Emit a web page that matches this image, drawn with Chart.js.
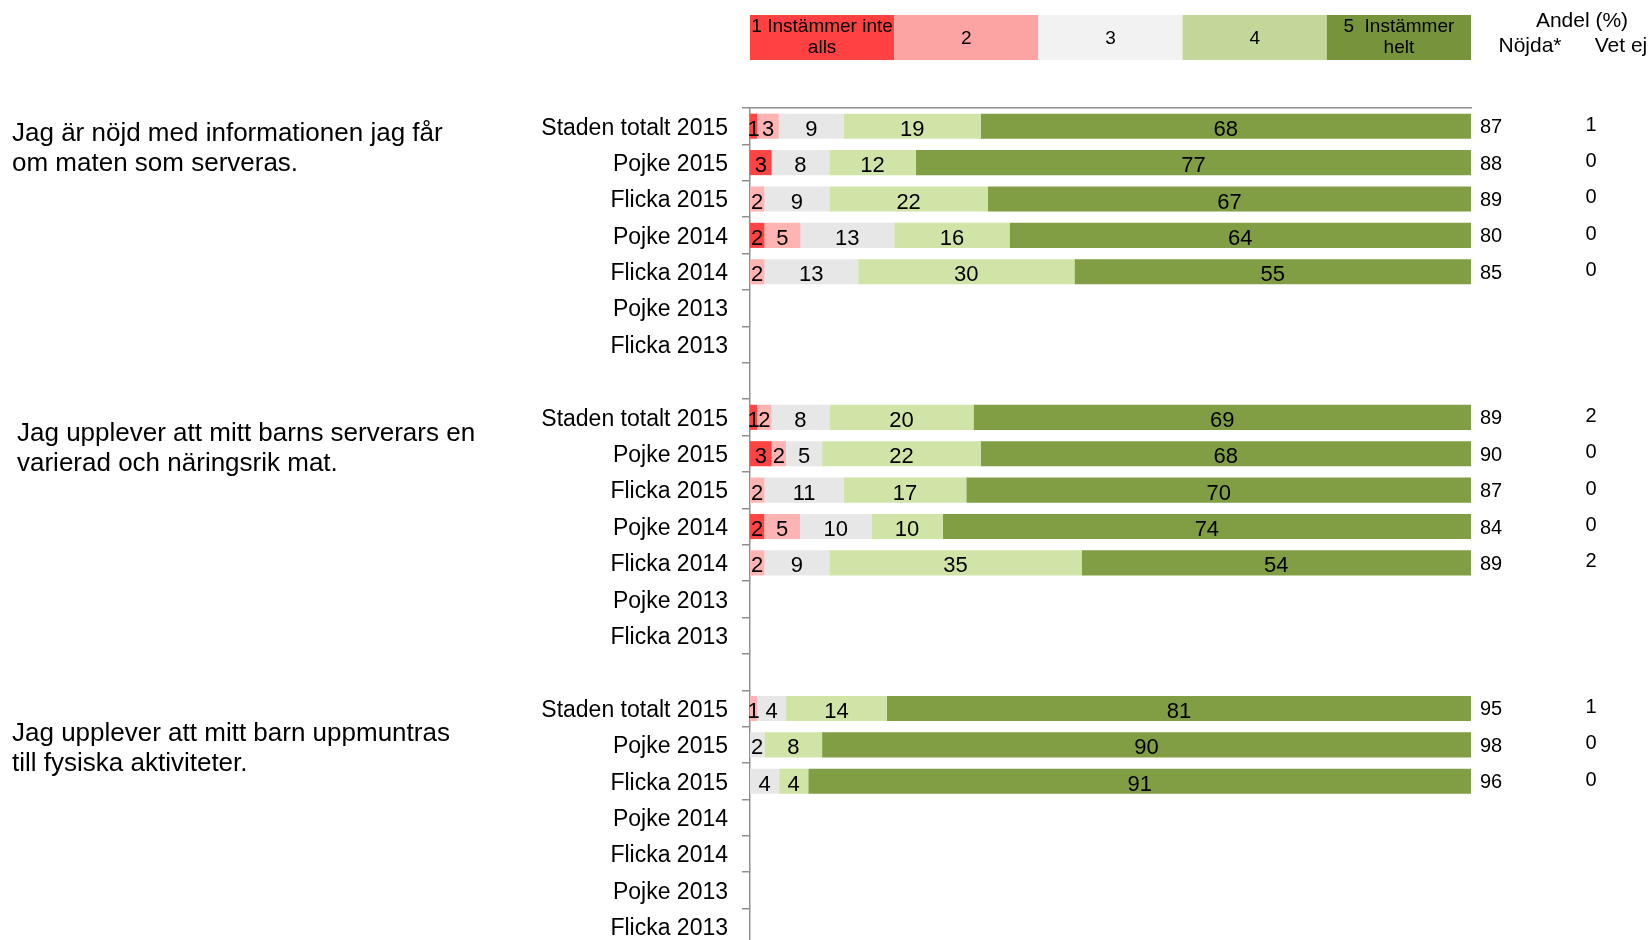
<!DOCTYPE html>
<html><head><meta charset="utf-8">
<script src="https://cdn.jsdelivr.net/npm/chart.js@4"></script>
<style>html,body{margin:0;padding:0;background:#fff;overflow:hidden}#wrap{width:1650px;height:940px;overflow:hidden;position:relative}canvas{display:block}</style>
</head><body><div id="wrap"><canvas id="c" width="1650" height="945"></canvas></div>
<script>
// ---- data ----
const categories = [
  'Staden totalt 2015','Pojke 2015','Flicka 2015','Pojke 2014','Flicka 2014','Pojke 2013','Flicka 2013','',
  'Staden totalt 2015','Pojke 2015','Flicka 2015','Pojke 2014','Flicka 2014','Pojke 2013','Flicka 2013','',
  'Staden totalt 2015','Pojke 2015','Flicka 2015','Pojke 2014','Flicka 2014','Pojke 2013','Flicka 2013'
];
const seriesNames = ['1 Instämmer inte alls','2','3','4','5 Instämmer helt'];
const s1 = [1,3,0,2,0,null,null, null, 1,3,0,2,0,null,null, null, 0,0,0,null,null,null,null];
const s2 = [3,0,2,5,2,null,null, null, 2,2,2,5,2,null,null, null, 1,0,0,null,null,null,null];
const s3 = [9,8,9,13,13,null,null, null, 8,5,11,10,9,null,null, null, 4,2,4,null,null,null,null];
const s4 = [19,12,22,16,30,null,null, null, 20,22,17,10,35,null,null, null, 14,8,4,null,null,null,null];
const s5 = [68,77,67,64,55,null,null, null, 69,68,70,74,54,null,null, null, 81,90,91,null,null,null,null];
const nojda = [87,88,89,80,85,null,null, null, 89,90,87,84,89,null,null, null, 95,98,96,null,null,null,null];
const vetEj = [1,0,0,0,0,null,null, null, 2,0,0,0,2,null,null, null, 1,0,0,null,null,null,null];
const legendLabels = [['1 Instämmer inte','alls'],['2'],['3'],['4'],['5  Instämmer','helt']];
const headerTitle = 'Andel (%)';
const headerCols = ['Nöjda*','Vet ej'];
const questions = [
  ['Jag är nöjd med informationen jag får','om maten som serveras.'],
  ['Jag upplever att mitt barns serverars en','varierad och näringsrik mat.'],
  ['Jag upplever att mitt barn uppmuntras','till fysiska aktiviteter.']
];

// ---- styles ----
const FONT = "'Liberation Sans', Arial, sans-serif";
const barColors = ['#FF4444','#FFB4B4','#E7E7E7','#D1E4A8','#819E45'];
const legendColors = ['#FF4141','#FCA4A4','#F2F2F2','#C4D79B','#77933C'];
const axisColor = '#8f8f8f';

Chart.defaults.font.family = FONT;

// 100% stacked: each row is shown as share of its own total (labels keep raw values)
const seriesData = [s1, s2, s3, s4, s5];
const rowTotals = categories.map((c, i) => seriesData.reduce((a, s) => a + (s[i] || 0), 0));
const plotted = seriesData.map(s => s.map((v, i) => v == null ? null : (rowTotals[i] ? v / rowTotals[i] * 100 : 0)));

const extras = {
  id: 'extras',
  afterDatasetsDraw(chart) {
    const ctx = chart.ctx;
    ctx.save();
    ctx.font = '22px ' + FONT;
    ctx.fillStyle = '#000';
    ctx.textAlign = 'center';
    ctx.textBaseline = 'middle';
    chart.data.datasets.forEach((ds, di) => {
      const meta = chart.getDatasetMeta(di);
      meta.data.forEach((el, i) => {
        const v = seriesData[di][i];
        if (v == null || v === 0) return;
        const p = el.getProps(['x','base','y'], true);
        ctx.fillText(String(v), (p.x + p.base) / 2, p.y + 3.5);
      });
    });
    ctx.restore();
  },
  afterDraw(chart) {
    const ctx = chart.ctx;
    const xs = chart.scales.x, ys = chart.scales.y;
    ctx.save();
    // legend boxes
    const lt = 15, lh = 45;
    for (let k = 0; k < 5; k++) {
      const x0 = xs.getPixelForValue(k * 20), x1 = xs.getPixelForValue((k + 1) * 20);
      ctx.fillStyle = legendColors[k];
      ctx.fillRect(x0, lt, x1 - x0, lh);
      ctx.fillStyle = '#000';
      ctx.font = '19px ' + FONT;
      ctx.textAlign = 'center';
      ctx.textBaseline = 'middle';
      const lines = legendLabels[k];
      const cx = (x0 + x1) / 2;
      if (lines.length === 1) ctx.fillText(lines[0], cx, lt + lh / 2 + 1);
      else { ctx.fillText(lines[0], cx, lt + 12); ctx.fillText(lines[1], cx, lt + 33); }
    }
    // header
    ctx.font = '21px ' + FONT;
    ctx.textAlign = 'center';
    ctx.fillText(headerTitle, 1582, 21);
    ctx.fillText(headerCols[0], 1530, 46);
    ctx.fillText(headerCols[1], 1621, 46);
    // right columns
    ctx.font = '20px ' + FONT;
    categories.forEach((c, i) => {
      const y = ys.getPixelForValue(i);
      if (nojda[i] != null) { ctx.textAlign = 'left'; ctx.fillText(String(nojda[i]), 1480, y + 1.5); }
      if (vetEj[i] != null) { ctx.textAlign = 'center'; ctx.fillText(String(vetEj[i]), 1591, y - 1); }
    });
    // questions
    ctx.font = '26px ' + FONT;
    ctx.textAlign = 'left';
    const qpos = [[12, 134, 164], [17, 434, 464], [12, 734, 764]];
    questions.forEach((q, qi) => {
      ctx.fillText(q[0], qpos[qi][0], qpos[qi][1]);
      ctx.fillText(q[1], qpos[qi][0], qpos[qi][2]);
    });
    ctx.restore();
  }
};

new Chart(document.getElementById('c'), {
  type: 'bar',
  data: {
    labels: categories,
    datasets: plotted.map((d, k) => ({
      label: seriesNames[k], data: d, backgroundColor: barColors[k],
      borderWidth: 0, barPercentage: 0.69, categoryPercentage: 1
    }))
  },
  options: {
    indexAxis: 'y',
    responsive: false,
    animation: false,
    layout: { padding: { top: 108, right: 179, bottom: 0, left: 0 } },
    plugins: { legend: { display: false }, tooltip: { enabled: false } },
    scales: {
      x: {
        stacked: true, min: 0, max: 100, position: 'top',
        grid: { display: false }, ticks: { display: false },
        border: { display: true, color: axisColor, width: 1.5 },
        afterFit(s) { s.height = 0; s.paddingLeft = 0; s.paddingRight = 0; }
      },
      y: {
        stacked: true, offset: true,
        grid: { display: true, drawOnChartArea: false, drawTicks: true, tickLength: 8, color: axisColor, lineWidth: 1.5, offset: true },
        border: { display: true, color: axisColor, width: 1.5 },
        ticks: { color: '#000', font: { size: 23 }, padding: 14, labelOffset: 2, autoSkip: false },
        afterFit(s) { s.width = 750; s.paddingTop = 0; s.paddingBottom = 0; }
      }
    }
  },
  plugins: [extras]
});
</script>
</body></html>
